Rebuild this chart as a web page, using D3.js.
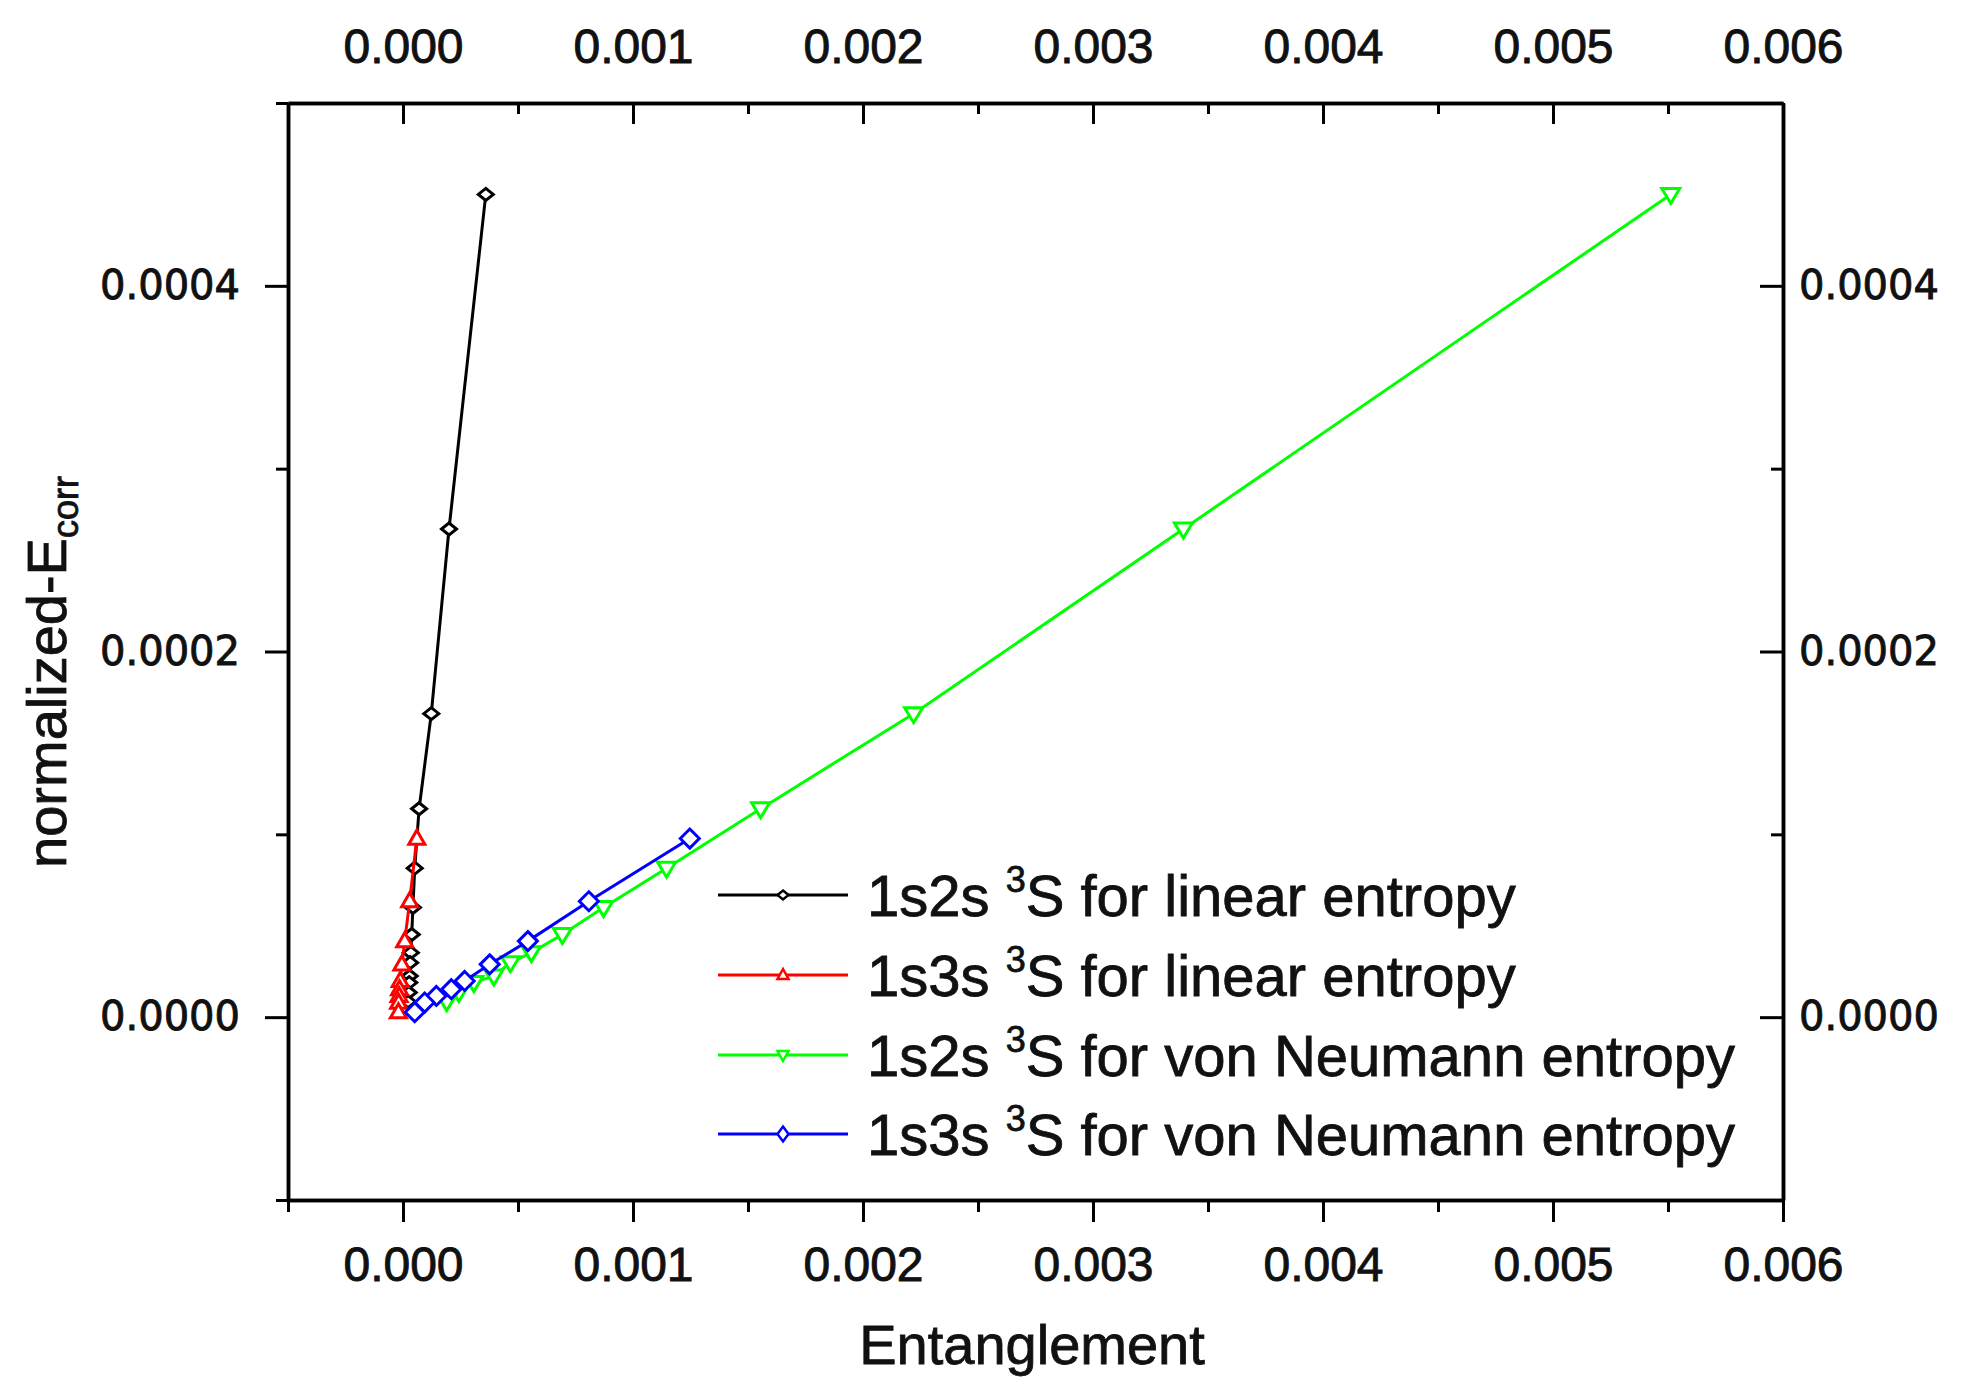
<!DOCTYPE html>
<html>
<head>
<meta charset="utf-8">
<script src="https://cdn.jsdelivr.net/npm/d3@7"></script>
<style>
  body { margin: 0; background: #fff; }
</style>
</head>
<body>
<svg id="chart" width="1985" height="1390"></svg>
<script>
// values
var blackX = [0.000360, 0.000200, 0.000123, 0.000070, 0.000051, 0.000043, 0.000038, 0.000034, 0.000031, 0.000029, 0.000027, 0.000025, 0.000022]
var blackY = [0.000450, 0.000267, 0.000166, 0.000114, 0.0000815, 0.0000600, 0.0000452, 0.0000353, 0.0000298, 0.0000225, 0.0000189, 0.0000135, 0.0000085]

var redX = [0.0000600, 0.0000290, 0.0000074, -0.0000050, -0.0000120, -0.0000150, -0.0000170, -0.0000190, -0.0000200]
var redY = [0.0000977, 0.0000634, 0.0000416, 0.0000289, 0.0000198, 0.0000153, 0.0000116, 0.0000080, 0.0000027]

var greenX = [0.005512, 0.003393, 0.002220, 0.001555, 0.001146, 0.000872, 0.000693, 0.000558, 0.000467, 0.000395, 0.000308, 0.000243, 0.000190]
var greenY = [0.000450, 0.000267, 0.000166, 0.000114, 0.0000815, 0.0000600, 0.0000452, 0.0000353, 0.0000298, 0.0000225, 0.0000189, 0.0000135, 0.0000085]

var blueX = [0.001247, 0.000808, 0.000543, 0.000377, 0.000268, 0.000210, 0.000145, 0.000094, 0.000051]
var blueY = [0.0000977, 0.0000634, 0.0000416, 0.0000289, 0.0000198, 0.0000153, 0.0000116, 0.0000080, 0.0000027]

var xMajor = [0, 0.001, 0.002, 0.003, 0.004, 0.005, 0.006]
var xMinor = [-0.0005, 0.0005, 0.0015, 0.0025, 0.0035, 0.0045, 0.0055]
var yMajor = [0, 0.0002, 0.0004]
var yMinor = [-0.0001, 0.0001, 0.0003, 0.0005]

var legendState = ["1s2s", "1s3s", "1s2s", "1s3s"]
var legendKind = ["linear entropy", "linear entropy", "von Neumann entropy", "von Neumann entropy"]

var svg = d3.select("#chart")
var box = {left: 288, right: 1783, top: 103, bottom: 1200}

svg.append("rect").attr("width", 1985).attr("height", 1390).attr("fill", "white")

var x = d3.scaleLinear().domain([-0.0005, 0.006]).range([box.left, box.right])
var y = d3.scaleLinear().domain([-0.0001, 0.0005]).range([box.bottom, box.top])

var tickFont = "'Liberation Sans', Arial, sans-serif"
var yFont = "'DejaVu Sans', Verdana, sans-serif"

function styleAxis(g, font, size) {
  g.attr("font-family", font).attr("font-size", size)
  g.select(".domain").attr("stroke", "black").attr("stroke-width", 3.5)
  g.selectAll(".tick line").attr("stroke", "black").attr("stroke-width", 3)
  g.selectAll(".tick text").attr("fill", "#111").attr("stroke", "#111").attr("stroke-width", 0.9)
}

// bottom axis, ticks out
svg.append("g").attr("transform", "translate(0," + box.bottom + ")")
   .call(d3.axisBottom(x).tickValues(xMinor).tickFormat("").tickSize(12).tickSizeOuter(0))
   .call(styleAxis, tickFont, 48)
svg.append("g").attr("transform", "translate(0," + box.bottom + ")")
   .call(d3.axisBottom(x).tickValues(xMajor).tickFormat(d3.format(".3f")).tickSize(22).tickPadding(25).tickSizeOuter(0))
   .call(styleAxis, tickFont, 48)

// top axis, ticks in
svg.append("g").attr("transform", "translate(0," + box.top + ")")
   .call(d3.axisTop(x).tickValues(xMinor).tickFormat("").tickSize(-11).tickSizeOuter(0))
   .call(styleAxis, tickFont, 48)
svg.append("g").attr("transform", "translate(0," + box.top + ")")
   .call(d3.axisTop(x).tickValues(xMajor).tickFormat(d3.format(".3f")).tickSize(-21).tickPadding(40).tickSizeOuter(0))
   .call(styleAxis, tickFont, 48)

// left axis, ticks out
svg.append("g").attr("transform", "translate(" + box.left + ",0)")
   .call(d3.axisLeft(y).tickValues(yMinor).tickFormat("").tickSize(12).tickSizeOuter(0))
   .call(styleAxis, yFont, 40)
svg.append("g").attr("transform", "translate(" + box.left + ",0)")
   .call(d3.axisLeft(y).tickValues(yMajor).tickFormat(d3.format(".4f")).tickSize(23).tickPadding(25).tickSizeOuter(0))
   .call(styleAxis, yFont, 40)

// right axis, ticks in
svg.append("g").attr("transform", "translate(" + box.right + ",0)")
   .call(d3.axisRight(y).tickValues(yMinor).tickFormat("").tickSize(-12).tickSizeOuter(0))
   .call(styleAxis, yFont, 40)
svg.append("g").attr("transform", "translate(" + box.right + ",0)")
   .call(d3.axisRight(y).tickValues(yMajor).tickFormat(d3.format(".4f")).tickSize(-23).tickPadding(16).tickSizeOuter(0))
   .call(styleAxis, yFont, 40)

// axis titles
svg.append("text")
   .attr("x", 1032).attr("y", 1364)
   .attr("text-anchor", "middle")
   .attr("font-family", tickFont).attr("font-size", 56)
   .attr("fill", "#111").attr("stroke", "#111").attr("stroke-width", 0.8)
   .text("Entanglement")

var yTitle = svg.append("text")
   .attr("transform", "translate(66,672) rotate(-90)")
   .attr("text-anchor", "middle")
   .attr("font-family", tickFont).attr("font-size", 56)
   .attr("fill", "#111").attr("stroke", "#111").attr("stroke-width", 0.8)
yTitle.append("tspan").text("normalized-E")
yTitle.append("tspan").attr("font-size", 36).attr("dy", 12).text("corr")

// markers
function markerPath(shape, w, h) {
  if (shape == "diamond") return "M0," + (-h/2) + "L" + (w/2) + ",0L0," + (h/2) + "L" + (-w/2) + ",0Z"
  if (shape == "up") return "M0," + (-h*0.6) + "L" + (w/2) + "," + (h*0.4) + "L" + (-w/2) + "," + (h*0.4) + "Z"
  return "M0," + (h*0.6) + "L" + (w/2) + "," + (-h*0.4) + "L" + (-w/2) + "," + (-h*0.4) + "Z"
}

var series = [
  {xs: blackX, ys: blackY, color: "#000000", shape: "diamond", w: 15, h: 12, lw: 11, lh: 9},
  {xs: redX, ys: redY, color: "#ff0000", shape: "up", w: 16, h: 14, lw: 11, lh: 10},
  {xs: greenX, ys: greenY, color: "#00ff00", shape: "down", w: 18, h: 15, lw: 11, lh: 10},
  {xs: blueX, ys: blueY, color: "#0000ff", shape: "diamond", w: 19, h: 19, lw: 11, lh: 15}
]

var line = d3.line().x(function(d){ return x(d[0]) }).y(function(d){ return y(d[1]) })

series.forEach(function(s) {
  var pts = s.xs.map(function(v, i){ return [v, s.ys[i]] })
  var g = svg.append("g")
  g.append("path")
   .attr("d", line(pts))
   .attr("fill", "none")
   .attr("stroke", s.color)
   .attr("stroke-width", 3)
  g.selectAll("path.mk").data(pts).enter()
   .append("path")
   .attr("class", "mk")
   .attr("transform", function(d){ return "translate(" + x(d[0]) + "," + y(d[1]) + ")" })
   .attr("d", markerPath(s.shape, s.w, s.h))
   .attr("fill", "white")
   .attr("stroke", s.color)
   .attr("stroke-width", 3)
})

// legend
var legend = svg.append("g").attr("id", "legend")
var rowY = [895, 975, 1055, 1134]

legendState.forEach(function(name, i) {
  var s = series[i]
  var row = legend.append("g").attr("transform", "translate(0," + rowY[i] + ")")
  row.append("line")
     .attr("x1", 718).attr("x2", 848).attr("y1", 0).attr("y2", 0)
     .attr("stroke", s.color).attr("stroke-width", 3)
  row.append("path")
     .attr("transform", "translate(783,0)")
     .attr("d", markerPath(s.shape, s.lw, s.lh))
     .attr("fill", "white")
     .attr("stroke", s.color)
     .attr("stroke-width", 2.5)
  var t = row.append("text")
     .attr("x", 867).attr("y", 21)
     .attr("font-family", tickFont).attr("font-size", 58)
     .attr("fill", "#111").attr("stroke", "#111").attr("stroke-width", 0.8)
  t.append("tspan").text(name + " ")
  t.append("tspan").attr("font-size", 36).attr("dy", -24).text("3")
  t.append("tspan").attr("dy", 24).text("S for " + legendKind[i])
})
</script>
</body>
</html>
